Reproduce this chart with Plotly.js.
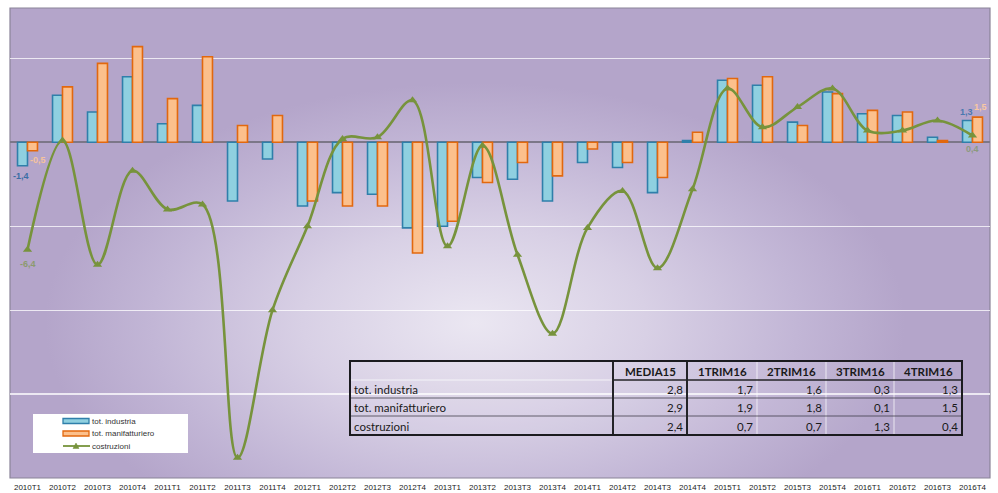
<!DOCTYPE html>
<html><head><meta charset="utf-8">
<script src="https://cdn.plot.ly/plotly-3.0.1.min.js"></script>
<style>
html,body{margin:0;padding:0;background:#fff;}
#wrap{position:relative;width:998px;height:493px;overflow:hidden;}
#bg{position:absolute;left:10px;top:8px;width:980px;height:470px;
background:radial-gradient(ellipse 430px 240px at 465px 315px,#ebe7f2 0%,#d8d0e5 40%,#c2b6d6 75%,#b4a5ca 100%);}
#chart{position:absolute;left:0;top:0;width:998px;height:493px;}
</style></head><body>
<div id="wrap"><div id="bg"></div><div id="chart"></div></div>
<script>
// ---- data ----
const categories = ['2010T1','2010T2','2010T3','2010T4','2011T1','2011T2','2011T3','2011T4',
  '2012T1','2012T2','2012T3','2012T4','2013T1','2013T2','2013T3','2013T4',
  '2014T1','2014T2','2014T3','2014T4','2015T1','2015T2','2015T3','2015T4',
  '2016T1','2016T2','2016T3','2016T4'];
const industria = [-1.4,2.8,1.8,3.9,1.1,2.2,-3.5,-1.0,-3.8,-3.0,-3.1,-5.1,-5.0,-2.1,-2.2,-3.5,
  -1.2,-1.5,-3.0,0.1,3.7,3.4,1.2,3.0,1.7,1.6,0.3,1.3];
const manifatturiero = [-0.5,3.3,4.7,5.7,2.6,5.1,1.0,1.6,-3.5,-3.8,-3.8,-6.6,-4.7,-2.4,-1.2,-2.0,
  -0.4,-1.2,-2.1,0.6,3.8,3.9,1.0,2.9,1.9,1.8,0.1,1.5];
const costruzioni = [-6.4,0.1,-7.3,-1.7,-4.0,-3.7,-18.8,-10.0,-5.0,0.2,0.3,2.5,-6.2,-0.2,-6.7,-11.4,
  -5.1,-2.9,-7.5,-2.8,3.2,0.9,2.1,3.2,0.7,0.7,1.3,0.4];
const seriesNames = ['tot. industria','tot. manifatturiero','costruzioni'];
const tableHeader = ['MEDIA15','1TRIM16','2TRIM16','3TRIM16','4TRIM16'];
const tableRowLabels = ['tot. industria','tot. manifatturiero','costruzioni'];
const tableIndustria = [2.8,1.7,1.6,0.3,1.3];
const tableManifatturiero = [2.9,1.9,1.8,0.1,1.5];
const tableCostruzioni = [2.4,0.7,0.7,1.3,0.4];

// ---- styling ----
const W = 998, H = 493;
const M = {l:10, r:8, t:8, b:15};
const PW = W - M.l - M.r, PH = H - M.t - M.b;
const px = x => (x - M.l) / PW;
const py = y => (H - M.b - y) / PH;
const fmt = v => String(v).replace('.', ',');

const blueFill = '#8fd0e0', blueLine = '#2f7faa';
const orFill = '#fcc08c', orLine = '#e2680e';
const green = '#77933c';

const traces = [
  {type:'bar', name:seriesNames[0], x:categories, y:industria,
   marker:{color:blueFill, line:{color:blueLine, width:1.6}}, showlegend:false, hoverinfo:'x+y'},
  {type:'bar', name:seriesNames[1], x:categories, y:manifatturiero,
   marker:{color:orFill, line:{color:orLine, width:1.6}}, showlegend:false, hoverinfo:'x+y'},
  {type:'scatter', mode:'lines+markers', name:seriesNames[2], x:categories, y:costruzioni,
   line:{color:green, width:2.6, shape:'spline', smoothing:1},
   marker:{symbol:'triangle-up', size:8, color:green}, showlegend:false, hoverinfo:'x+y'}
];

const shapes = [];
const annotations = [];

// plot border
shapes.push({type:'rect', xref:'paper', yref:'paper', x0:0, x1:1, y0:0, y1:1,
  line:{color:'#8a8498', width:1.2}, fillcolor:'rgba(0,0,0,0)', layer:'below'});

// data labels (first and last points)
const n = categories.length - 1;
const lblFont = c => ({family:'Liberation Sans, Arial', size:9, color:c, weight:'bold'});
annotations.push({x:categories[0], y:industria[0], xref:'x', yref:'y', text:fmt(industria[0]),
  showarrow:false, xshift:-7, yshift:-10, font:lblFont('#3b6ea5')});
annotations.push({x:categories[0], y:manifatturiero[0], xref:'x', yref:'y', text:fmt(manifatturiero[0]),
  showarrow:false, xshift:10, yshift:-9, font:lblFont('#f6c39c')});
annotations.push({x:categories[0], y:costruzioni[0], xref:'x', yref:'y', text:fmt(costruzioni[0]),
  showarrow:false, xshift:0, yshift:-14, font:lblFont('#8c9a6e')});
annotations.push({x:categories[n], y:industria[n], xref:'x', yref:'y', text:fmt(industria[n]),
  showarrow:false, xshift:-6, yshift:8, font:lblFont('#4a78b0')});
annotations.push({x:categories[n], y:manifatturiero[n], xref:'x', yref:'y', text:fmt(manifatturiero[n]),
  showarrow:false, xshift:8, yshift:10, font:lblFont('#f8c8a2')});
annotations.push({x:categories[n], y:costruzioni[n], xref:'x', yref:'y', text:fmt(costruzioni[n]),
  showarrow:false, xshift:0, yshift:-13, font:lblFont('#8c9a7e')});

// ---- legend (custom box) ----
shapes.push({type:'rect', xref:'paper', yref:'paper', x0:px(33), x1:px(188), y0:py(453), y1:py(414),
  fillcolor:'#ffffff', line:{width:0}});
const legY = [421, 433.5, 446];
shapes.push({type:'rect', xref:'paper', yref:'paper', x0:px(63), x1:px(89), y0:py(legY[0]+2.5), y1:py(legY[0]-2.5),
  fillcolor:blueFill, line:{color:blueLine, width:1.3}});
shapes.push({type:'rect', xref:'paper', yref:'paper', x0:px(63), x1:px(89), y0:py(legY[1]+2.5), y1:py(legY[1]-2.5),
  fillcolor:orFill, line:{color:orLine, width:1.3}});
shapes.push({type:'line', xref:'paper', yref:'paper', x0:px(63), x1:px(90), y0:py(legY[2]), y1:py(legY[2]),
  line:{color:green, width:1.8}});
shapes.push({type:'path', xref:'paper', yref:'paper',
  path:`M ${px(73)} ${py(legY[2]+2.5)} L ${px(79)} ${py(legY[2]+2.5)} L ${px(76)} ${py(legY[2]-3)} Z`,
  fillcolor:green, line:{color:green, width:0.5}});
seriesNames.forEach((s,i)=>{
  annotations.push({xref:'paper', yref:'paper', x:px(90), y:py(legY[i]), xanchor:'left', yanchor:'middle',
    text:s, showarrow:false, font:{family:'Liberation Sans, Arial', size:8, color:'#333333'}});
});

// ---- table ----
const tL = 350, tR = 962, tT = 361, tB = 435;
const colX = [350, 613, 687, 757, 826, 894, 962];
const rowY = [361, 380, 398, 416, 435];
const dark = '#1b1b1f';
[380].forEach(y=>shapes.push({type:'line', xref:'paper', yref:'paper', x0:px(tL), x1:px(colX[1]), y0:py(y), y1:py(y),
  line:{color:'rgba(255,255,255,0.7)', width:1}}));
[757, 826, 894].forEach(x=>shapes.push({type:'line', xref:'paper', yref:'paper', x0:px(x), x1:px(x), y0:py(tT), y1:py(tB),
  line:{color:'rgba(255,255,255,0.6)', width:1.2}}));
[398, 416].forEach(y=>shapes.push({type:'line', xref:'paper', yref:'paper', x0:px(tL), x1:px(tR), y0:py(y), y1:py(y),
  line:{color:'rgba(50,45,60,0.75)', width:1}}));
shapes.push({type:'line', xref:'paper', yref:'paper', x0:px(colX[1]), x1:px(tR), y0:py(380), y1:py(380),
  line:{color:dark, width:1.3}});
[613, 687].forEach(x=>shapes.push({type:'line', xref:'paper', yref:'paper', x0:px(x), x1:px(x), y0:py(tT), y1:py(tB),
  line:{color:dark, width:2}}));
shapes.push({type:'rect', xref:'paper', yref:'paper', x0:px(tL), x1:px(tR), y0:py(tB), y1:py(tT),
  line:{color:dark, width:2}, fillcolor:'rgba(255,255,255,0.04)'});

const tFont = {family:'Lato, Carlito, Calibri, sans-serif', size:11.5, color:'#1a1a1a'};
tableHeader.forEach((h,j)=>{
  annotations.push({xref:'paper', yref:'paper', x:px((colX[j+1]+colX[j+2])/2), y:py(371), xanchor:'center', yanchor:'middle',
    text:'<b>'+h+'</b>', showarrow:false, font:tFont});
});
const tableVals = [tableIndustria, tableManifatturiero, tableCostruzioni];
tableRowLabels.forEach((r,i)=>{
  const yc = (rowY[i+1]+rowY[i+2])/2 + 0.5;
  annotations.push({xref:'paper', yref:'paper', x:px(352), y:py(yc), xanchor:'left', yanchor:'middle',
    text:r, showarrow:false, font:tFont});
  tableVals[i].forEach((v,j)=>{
    annotations.push({xref:'paper', yref:'paper', x:px(colX[j+2]-2), y:py(yc), xanchor:'right', yanchor:'middle',
      text:v.toFixed(1).replace('.',','), showarrow:false, font:tFont});
  });
});

const layout = {
  width:W, height:H, margin:M,
  paper_bgcolor:'rgba(0,0,0,0)', plot_bgcolor:'rgba(0,0,0,0)',
  barmode:'group', bargap:0.43, bargroupgap:0,
  showlegend:false,
  xaxis:{type:'category', range:[-0.5, categories.length-0.5], autorange:false,
    showgrid:false, zeroline:false, showline:false, ticks:'',
    tickfont:{family:'Liberation Sans, Arial', size:8, color:'#222222'}, tickangle:0, ticklabelstandoff:3},
  yaxis:{range:[-20,8], dtick:5, tick0:0, showticklabels:false, showgrid:true,
    gridcolor:'rgba(255,255,255,0.75)', gridwidth:1.2,
    zeroline:true, zerolinecolor:'#7c7788', zerolinewidth:1.6, showline:false, ticks:''},
  shapes:shapes, annotations:annotations
};
Plotly.newPlot('chart', traces, layout, {displayModeBar:false, staticPlot:true});
</script>
</body></html>
